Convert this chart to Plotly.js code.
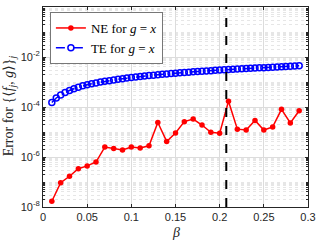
<!DOCTYPE html>
<html><head><meta charset="utf-8">
<script src="https://cdn.plot.ly/plotly-3.0.1.min.js"></script>
<style>html,body{margin:0;padding:0;background:#fff}#c{width:316px;height:241px}</style>
</head><body><div id="c"></div>
<script>
const neBeta = [0.01,0.02,0.03,0.04,0.05,0.06,0.07,0.08,0.09,0.10,0.11,0.12,0.13,0.14,0.15,0.16,0.17,0.18,0.19,0.20,0.21,0.22,0.23,0.24,0.25,0.26,0.27,0.28,0.29];
const neErr = [1.7e-8,9.4e-8,1.7e-7,3.4e-7,4.4e-7,6.3e-7,2.5e-6,2.2e-6,1.9e-6,2.5e-6,2.3e-6,2.8e-6,2.4e-5,4.2e-6,9.1e-6,2.6e-5,3.3e-5,1.9e-5,9.7e-6,8.9e-6,1.7e-4,1.3e-5,1.2e-5,2.9e-5,1.2e-5,1.6e-5,8.1e-5,2.3e-5,7.1e-5];
const teBeta = [0.010,0.015,0.020,0.025,0.030,0.035,0.040,0.045,0.050,0.055,0.060,0.065,0.070,0.075,0.080,0.085,0.090,0.095,0.100,0.105,0.110,0.115,0.120,0.125,0.130,0.135,0.140,0.145,0.150,0.155,0.160,0.165,0.170,0.175,0.180,0.185,0.190,0.195,0.200,0.205,0.210,0.215,0.220,0.225,0.230,0.235,0.240,0.245,0.250,0.255,0.260,0.265,0.270,0.275,0.280,0.285,0.290];
const teErr = [1.5e-4,2.3e-4,3.0e-4,3.8e-4,4.6e-4,5.4e-4,6.2e-4,7.0e-4,7.8e-4,8.5e-4,9.2e-4,9.9e-4,1.06e-3,1.13e-3,1.2e-3,1.28e-3,1.35e-3,1.43e-3,1.5e-3,1.58e-3,1.65e-3,1.73e-3,1.8e-3,1.88e-3,1.95e-3,2.03e-3,2.1e-3,2.18e-3,2.25e-3,2.33e-3,2.4e-3,2.48e-3,2.55e-3,2.63e-3,2.7e-3,2.78e-3,2.85e-3,2.93e-3,3.0e-3,3.08e-3,3.15e-3,3.23e-3,3.3e-3,3.38e-3,3.45e-3,3.53e-3,3.6e-3,3.68e-3,3.75e-3,3.83e-3,3.9e-3,4.0e-3,4.1e-3,4.2e-3,4.3e-3,4.4e-3,4.5e-3];
const xTicks = [0,0.05,0.1,0.15,0.2,0.25,0.3];
const xTickText = ['0','0.05','0.1','0.15','0.2','0.25','0.3'];
const yTicks = [1e-8,1e-6,1e-4,1e-2,1];
const yTickText = ['10<sup>-8</sup>','10<sup>-6</sup>','10<sup>-4</sup>','10<sup>-2</sup>','10<sup>0</sup>'];
const refBeta = 0.2075;
const xTitle = '<i>β</i>';
const yTitle = 'Error for {⟨<i>f</i><sub><i>j</i></sub>, <i>g</i>⟩}<sub><i>j</i></sub>';

const serif = 'Liberation Serif, DejaVu Serif, serif';
const sans = 'Liberation Sans, Arial, sans-serif';
const axCol = '#262626';

const traces = [
  {x: neBeta, y: neErr, type:'scatter', mode:'lines+markers', name:'NE for <i>g</i> = <i>x</i>',
   line:{color:'#ff0000', width:1.5}, marker:{color:'#ff0000', size:5.5, symbol:'circle'}},
  {x: teBeta, y: teErr, type:'scatter', mode:'lines+markers', name:'TE for <i>g</i> = <i>x</i>',
   line:{color:'#0000ff', width:1.5, dash:'dash'}, marker:{color:'#0000ff', size:6, symbol:'circle-open', line:{color:'#0000ff', width:1.5}}}
];

const layout = {
  width:316, height:241,
  margin:{l:43, r:8, t:7, b:34},
  paper_bgcolor:'#fff', plot_bgcolor:'#fff',
  showlegend:true,
  legend:{x:0.026, y:0.975, xanchor:'left', yanchor:'top', bgcolor:'#fff', bordercolor:'#777', borderwidth:1,
          font:{family:serif, size:13, color:'#000'}, tracegroupgap:0, itemwidth:30},
  xaxis:{range:[0,0.3], tickvals:xTicks, ticktext:xTickText, ticks:'inside', ticklen:3, tickcolor:axCol,
         showline:true, linecolor:axCol, linewidth:1, mirror:'ticks', zeroline:false,
         showgrid:true, gridcolor:'#dcdcdc', gridwidth:1,
         tickfont:{family:sans, size:11, color:axCol}},
  yaxis:{type:'log', range:[-8,0], tickvals:yTicks, ticktext:yTickText, ticks:'inside', ticklen:3, tickcolor:axCol,
         showline:true, linecolor:axCol, linewidth:1, mirror:'ticks', zeroline:false,
         showgrid:true, gridcolor:'#dcdcdc', gridwidth:1,
         minor:{dtick:'D1', showgrid:true, gridcolor:'#e6e6e6', griddash:'dot', ticks:'inside', ticklen:2, tickcolor:axCol},
         tickfont:{family:sans, size:11, color:axCol}},
  annotations:[
    {text:xTitle, xref:'paper', yref:'paper', x:0.5, y:-0.13, xanchor:'center', yanchor:'middle', showarrow:false,
     font:{family:serif, size:14, color:axCol}},
    {text:yTitle, xref:'paper', yref:'paper', x:-0.127, y:0.505, xanchor:'center', yanchor:'middle', textangle:-90, showarrow:false,
     font:{family:serif, size:14, color:axCol}}
  ],
  shapes:[{type:'line', xref:'x', yref:'paper', x0:refBeta, x1:refBeta, y0:0, y1:1,
           line:{color:'#000', width:2, dash:'dash'}}]
};
Plotly.newPlot('c', traces, layout, {displayModeBar:false, staticPlot:true});
</script></body></html>
